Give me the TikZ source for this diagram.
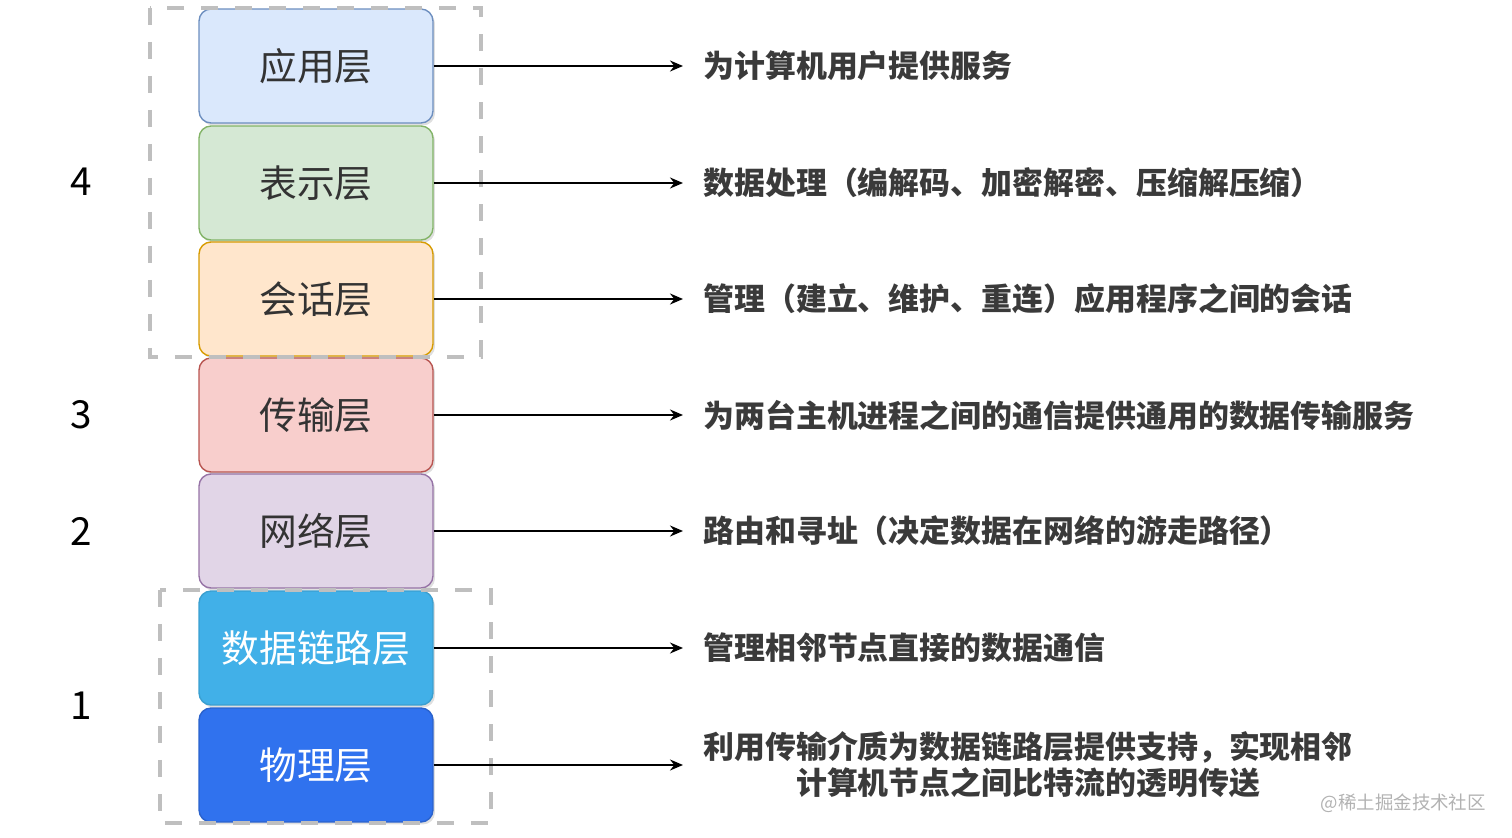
\documentclass[tikz,border=0pt]{standalone}
\usepackage{fontspec}
\setmainfont{Noto Sans CJK SC}
\usetikzlibrary{arrows.meta,shadows}

\definecolor{appfill}{HTML}{DAE8FC}\definecolor{appdraw}{HTML}{6C8EBF}
\definecolor{prefill}{HTML}{D5E8D4}\definecolor{predraw}{HTML}{82B366}
\definecolor{sesfill}{HTML}{FFE6CC}\definecolor{sesdraw}{HTML}{D79B00}
\definecolor{trafill}{HTML}{F8CECC}\definecolor{tradraw}{HTML}{B85450}
\definecolor{netfill}{HTML}{E1D5E7}\definecolor{netdraw}{HTML}{9673A6}
\definecolor{linfill}{HTML}{41B0E8}\definecolor{lindraw}{HTML}{3A9FD0}
\definecolor{phyfill}{HTML}{3072EE}\definecolor{phydraw}{HTML}{2A62CC}
\definecolor{boxtext}{HTML}{333333}
\definecolor{desctext}{HTML}{3A3A3A}

\tikzset{
  layer/.style={draw, rounded corners=0.24cm, minimum width=4.68cm,
    minimum height=2.28cm, line width=0.8pt,
    font=\fontsize{21.5}{24}\selectfont,
    drop shadow={opacity=0.25, shadow xshift=0.04cm, shadow yshift=-0.05cm}},
  desc/.style={anchor=west, inner xsep=0.4cm, align=center, text=desctext,
    font=\bfseries\fontsize{17.6}{20.5}\selectfont},
  group/.style={draw=gray!50, line width=0.07cm, dash pattern=on 0.34cm off 0.34cm},
  level/.style={font=\fontsize{22}{24}\selectfont},
  link/.style={-{Stealth[length=0.26cm,width=0.22cm]}, line width=0.8pt}
}

\begin{document}
\begin{tikzpicture}[x=0.02cm, y=-0.02cm]
    \useasboundingbox (0,0) rectangle (1512,838);

    % the seven layers, top to bottom
    \foreach \i/\y/\lbl/\fc/\dc/\tc in {
        1/66/应用层/appfill/appdraw/boxtext,
        2/183/表示层/prefill/predraw/boxtext,
        3/299/会话层/sesfill/sesdraw/boxtext,
        4/415/传输层/trafill/tradraw/boxtext,
        5/531/网络层/netfill/netdraw/boxtext,
        6/648/数据链路层/linfill/lindraw/white,
        7/765/物理层/phyfill/phydraw/white} {
        \node[layer, fill=\fc, draw=\dc, text=\tc] (L\i) at (316,\y) {\lbl};
    }

    \draw[group] (150,8) rectangle (481,357);
    \draw[group] (160,590) rectangle (491,823);

    \node[level] (n4) at (81,182) {4};
    \node[level] (n3) at (81,415) {3};
    \node[level] (n2) at (81,531) {2};
    \node[level] (n1) at (81,706) {1};

    \foreach \i/\y/\txt in {
        1/66/{为计算机用户提供服务},
        2/183/{数据处理（编解码、加密解密、压缩解压缩）},
        3/299/{管理（建立、维护、重连）应用程序之间的会话},
        4/415/{为两台主机进程之间的通信提供通用的数据传输服务},
        5/531/{路由和寻址（决定数据在网络的游走路径）},
        6/648/{管理相邻节点直接的数据通信},
        7/765/{利用传输介质为数据链路层提供支持，实现相邻\\计算机节点之间比特流的透明传送}} {
        \node[desc] (D\i) at (683,\y) {\txt};
        \draw[link] (L\i.east) -- (D\i.west);
    }

    \node[anchor=east, text=gray!60, font=\fontsize{10.5}{12}\selectfont] (mark) at (1492,803) {@稀土掘金技术社区};
\end{tikzpicture}
\end{document}
